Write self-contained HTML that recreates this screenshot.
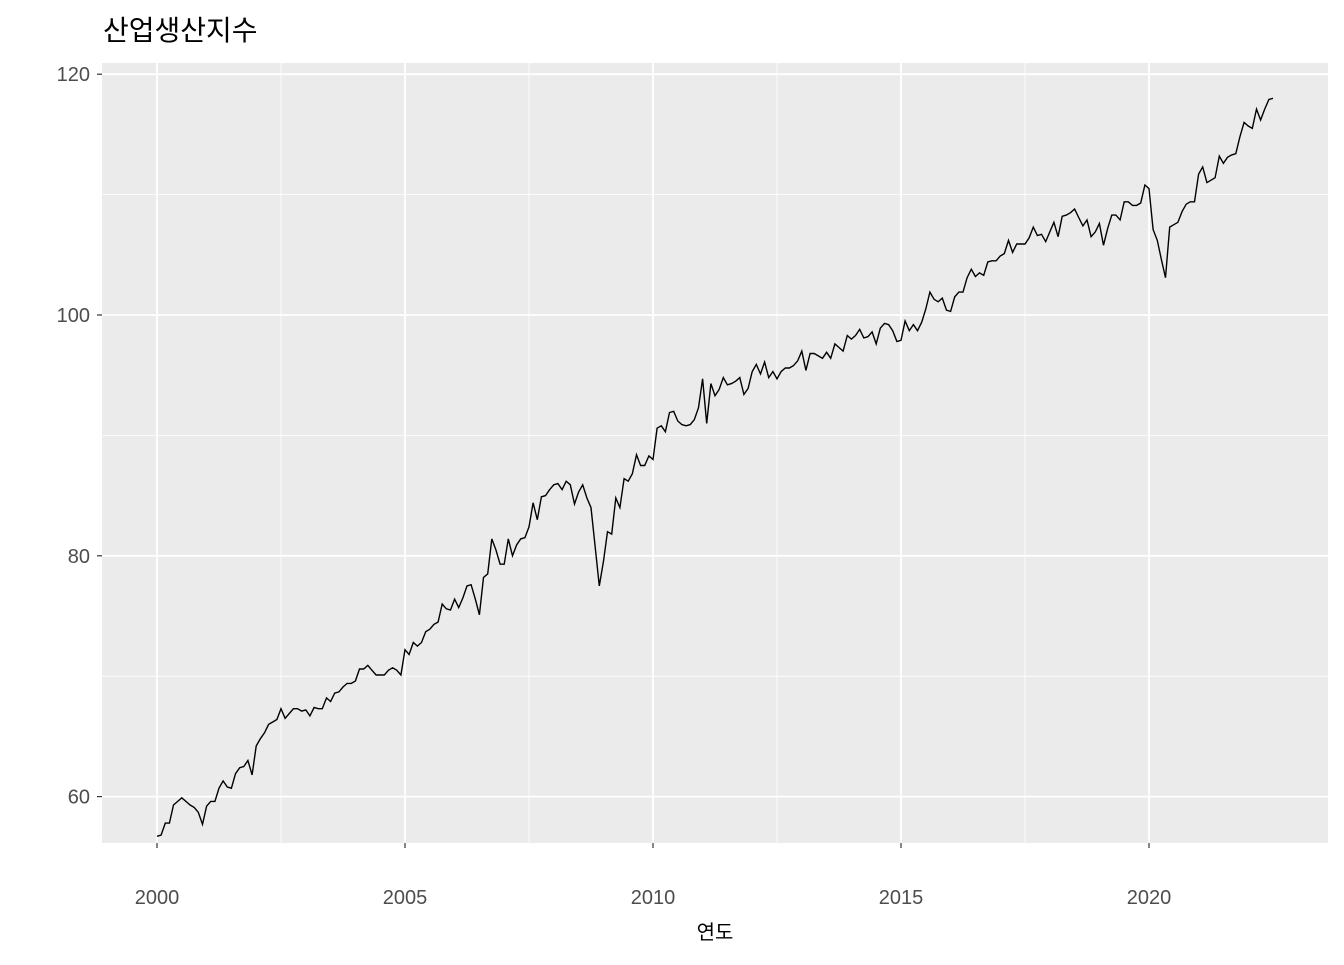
<!DOCTYPE html>
<html><head><meta charset="utf-8"><style>
body{margin:0;background:#fff}
svg text{font-family:"Liberation Sans","Noto Sans CJK KR",sans-serif}
</style></head><body>
<svg id="chart" width="1344" height="960" xmlns="http://www.w3.org/2000/svg">
<text x="103" y="40" font-size="28" fill="#000">산업생산지수</text>
<rect x="102" y="63" width="1226" height="780" fill="#ebebeb"/>
<g id="grid"></g>
<g id="axes"></g>
<path id="line" fill="none" stroke="#000" stroke-width="1.4"/>
<text x="715" y="939" font-size="20" text-anchor="middle" fill="#000">연도</text>
</svg>
<script>
const startYear = 2000;
const values = [
56.7,56.8,57.8,57.8,59.3,59.6,59.9,59.6,59.3,59.1,58.7,57.7,
59.2,59.6,59.6,60.7,61.3,60.8,60.7,61.9,62.4,62.5,63.0,61.8,
64.2,64.8,65.3,66.0,66.2,66.4,67.3,66.5,66.9,67.3,67.3,67.1,
67.2,66.7,67.4,67.3,67.3,68.2,67.9,68.6,68.7,69.1,69.4,69.4,
69.6,70.6,70.6,70.9,70.5,70.1,70.1,70.1,70.5,70.7,70.5,70.1,
72.2,71.8,72.8,72.5,72.8,73.7,73.9,74.3,74.5,76.0,75.6,75.5,
76.4,75.7,76.5,77.5,77.6,76.4,75.1,78.2,78.5,81.4,80.5,79.3,
79.3,81.4,80.0,80.9,81.4,81.5,82.4,84.4,83.0,84.9,85.0,85.5,
85.9,86.0,85.5,86.2,85.9,84.3,85.3,85.9,84.8,84.0,80.8,77.5,
79.5,82.0,81.8,84.8,84.0,86.4,86.2,86.8,88.4,87.5,87.5,88.3,
88.0,90.6,90.8,90.3,91.9,92.0,91.2,90.9,90.8,90.9,91.3,92.3,
94.7,91.0,94.3,93.3,93.8,94.8,94.2,94.3,94.5,94.8,93.4,93.9,
95.3,95.9,95.1,96.1,94.8,95.3,94.7,95.3,95.6,95.6,95.8,96.2,
97.0,95.4,96.8,96.8,96.6,96.4,96.9,96.4,97.6,97.3,97.0,98.3,
98.0,98.3,98.8,98.1,98.2,98.6,97.6,98.9,99.3,99.2,98.7,97.8,
97.9,99.5,98.7,99.2,98.7,99.4,100.5,101.9,101.3,101.1,101.4,100.4,
100.3,101.5,101.9,101.9,103.1,103.8,103.2,103.5,103.3,104.4,104.5,104.5,
104.9,105.1,106.2,105.2,105.9,105.9,105.9,106.4,107.3,106.6,106.7,106.1,
106.9,107.7,106.5,108.2,108.3,108.5,108.8,108.1,107.4,107.9,106.5,106.9,
107.6,105.8,107.2,108.3,108.3,107.9,109.4,109.4,109.1,109.1,109.3,110.8,
110.5,107.1,106.2,104.6,103.1,107.3,107.5,107.7,108.6,109.2,109.4,109.4,
111.7,112.3,111.0,111.2,111.4,113.2,112.6,113.1,113.3,113.4,114.8,116.0,
115.7,115.5,117.1,116.2,117.1,117.9,118.0
];
const xTicks = [2000,2005,2010,2015,2020];
const yTicks = [60,80,100,120];
const xMinor = [2002.5,2007.5,2012.5,2017.5];
const yMinor = [70,90,110];

const X = t => 157 + (t-2000)*49.6;
const Y = v => 315 - (v-100)*12.04;
const NS = "http://www.w3.org/2000/svg";
const grid = document.getElementById('grid'), axes = document.getElementById('axes');
function mk(tag, attrs, parent){const e=document.createElementNS(NS,tag);for(const k in attrs)e.setAttribute(k,attrs[k]);parent.appendChild(e);return e;}
yMinor.forEach(v=>{const e=mk('line',{x1:102,x2:1328,y1:Y(v),y2:Y(v),stroke:'#fff','stroke-width':0.8},grid);

});
xMinor.forEach(t=>{const e=mk('line',{x1:X(t),x2:X(t),y1:63,y2:843,stroke:'#fff','stroke-width':0.8},grid);

});
yTicks.forEach(v=>{const e=mk('line',{x1:102,x2:1328,y1:Y(v),y2:Y(v),stroke:'#fff','stroke-width':1.8},grid);


const t=mk('line',{x1:97,x2:102,y1:Y(v),y2:Y(v),stroke:'#333','stroke-width':1.2},axes);


const l=mk('text',{x:90,y:Y(v)+7,'font-size':20,'text-anchor':'end',fill:'#4d4d4d'},axes);l.textContent=v;

});
xTicks.forEach(v=>{const e=mk('line',{x1:X(v),x2:X(v),y1:63,y2:843,stroke:'#fff','stroke-width':1.8},grid);


const t=mk('line',{x1:X(v),x2:X(v),y1:843,y2:848,stroke:'#333','stroke-width':1.2},axes);


const l=mk('text',{x:X(v),y:904,'font-size':20,'text-anchor':'middle',fill:'#4d4d4d'},axes);l.textContent=v;

});
let d='';
values.forEach((v,i)=>{d+=(i?'L':'M')+X(startYear+i/12).toFixed(1)+','+Y(v).toFixed(1);});
document.getElementById('line').setAttribute('d',d);
</script>
</body></html>
